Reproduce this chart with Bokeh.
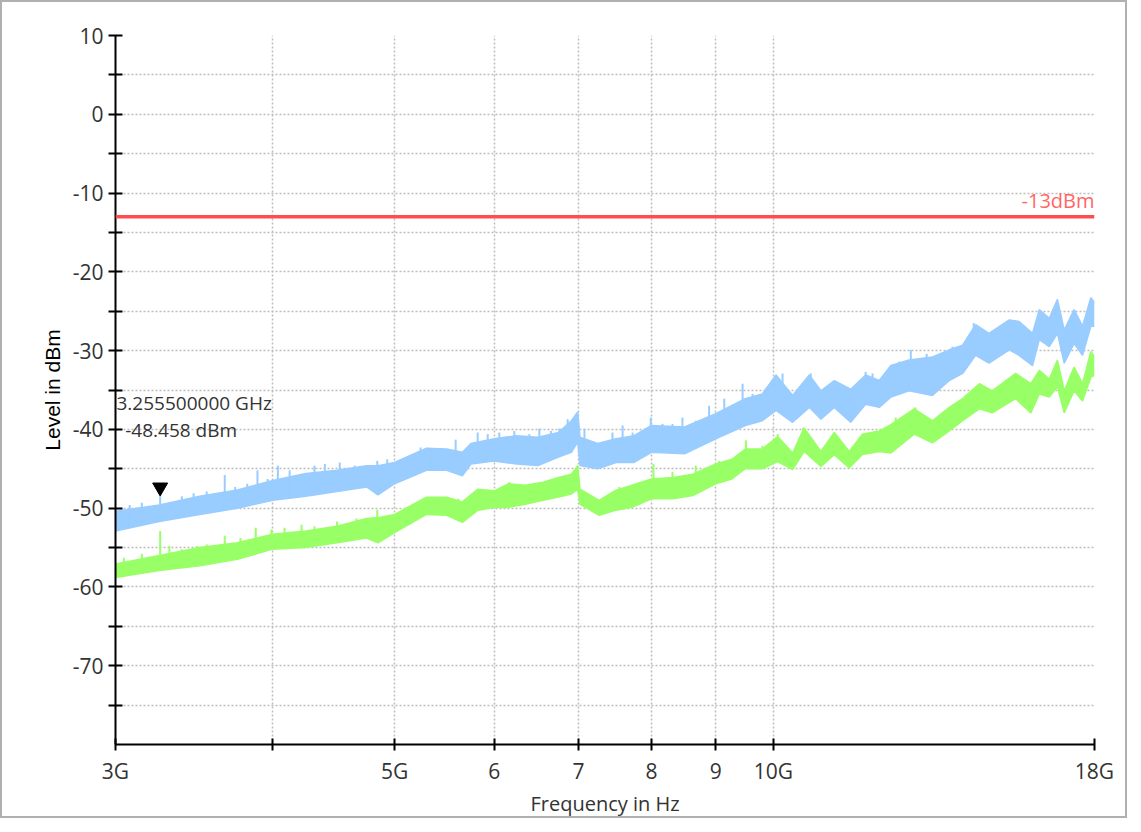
import numpy as np
from bokeh.plotting import figure
from bokeh.models import FixedTicker, Span, Label
from bokeh.embed import file_html
from bokeh.resources import INLINE

# ---------------- data ----------------
# frequencies in GHz, levels in dBm
blue_freq = [3.00, 3.25, 3.50, 3.75, 4.00, 4.25, 4.50, 4.75, 4.85, 5.00, 5.30, 5.50,
             5.66, 5.75, 6.00, 6.25, 6.50, 6.75, 6.91, 6.99, 7.02, 7.25, 7.50, 7.75,
             8.00, 8.50, 9.00, 9.50, 9.80, 10.05, 10.36, 10.68, 10.91, 11.18, 11.52,
             11.84, 12.14, 12.40, 12.82, 13.38, 13.80, 14.14, 14.48, 14.84, 15.40,
             15.68, 16.07, 16.27, 16.57, 16.82, 17.03, 17.34, 17.61, 17.88, 18.00]
blue_hi = [-50.4, -49.6, -48.5, -47.7, -46.5, -45.6, -45.2, -44.6, -44.6, -44.2, -42.4, -42.5,
           -42.9, -41.8, -41.2, -40.8, -41.0, -40.4, -38.9, -37.8, -41.0, -41.8, -41.2, -40.8,
           -39.5, -39.7, -38.0, -36.1, -35.5, -33.1, -35.7, -33.1, -35.1, -33.8, -34.9,
           -33.1, -33.8, -31.9, -31.2, -30.8, -29.9, -29.3, -26.7, -27.8, -26.1,
           -26.3, -27.8, -24.8, -25.9, -23.5, -27.4, -24.8, -26.9, -23.3, -23.9]
blue_lo = [-52.9, -51.7, -50.8, -50.0, -49.0, -48.5, -47.9, -47.3, -48.3, -46.9, -45.2, -45.2,
           -45.9, -44.4, -44.0, -44.4, -44.6, -43.5, -42.9, -41.6, -44.6, -45.0, -44.2, -44.2,
           -42.9, -43.1, -41.2, -39.5, -38.9, -37.6, -39.1, -37.2, -38.7, -37.2, -39.1,
           -36.8, -37.2, -35.9, -35.1, -35.7, -33.8, -32.9, -30.6, -31.6, -29.9,
           -30.6, -31.9, -28.6, -29.5, -27.8, -31.6, -29.1, -30.6, -26.9, -26.9]

green_freq = [3.00, 3.25, 3.50, 3.75, 4.00, 4.25, 4.50, 4.75, 4.85, 5.00, 5.30, 5.50,
              5.66, 5.82, 6.00, 6.16, 6.35, 6.56, 6.75, 6.91, 6.99, 7.02, 7.27, 7.48,
              7.72, 8.00, 8.32, 8.63, 9.00, 9.27, 9.50, 9.80, 10.08, 10.36, 10.58,
              10.91, 11.18, 11.49, 11.77, 12.14, 12.40, 12.94, 13.38, 13.80, 14.14,
              14.58, 14.93, 15.58, 16.02, 16.27, 16.57, 16.82, 17.03, 17.34, 17.61,
              17.88, 18.00]
green_hi = [-57.1, -56.0, -55.0, -54.4, -53.3, -52.9, -52.3, -51.3, -51.2, -50.8, -48.6, -48.6,
            -49.2, -47.6, -47.8, -46.9, -47.1, -46.7, -46.1, -45.7, -44.6, -47.6, -49.0, -47.8,
            -47.1, -46.3, -46.1, -45.7, -44.4, -43.8, -42.5, -42.5, -40.9, -43.0, -39.8,
            -42.8, -40.4, -42.8, -40.6, -40.2, -39.4, -37.4, -38.9, -37.2, -36.1,
            -34.2, -35.1, -32.9, -34.2, -32.5, -33.6, -31.2, -35.1, -32.1, -34.2,
            -30.1, -30.8]
green_lo = [-58.8, -57.9, -57.3, -56.5, -55.2, -55.0, -54.4, -53.8, -54.4, -53.1, -50.8, -50.9,
            -51.8, -50.3, -49.9, -49.9, -49.5, -49.0, -48.6, -48.2, -47.6, -49.5, -50.9, -50.3,
            -49.9, -48.8, -48.8, -48.4, -46.9, -46.3, -45.0, -45.0, -44.1, -45.1, -42.8,
            -44.7, -43.2, -44.9, -43.2, -42.8, -43.0, -40.6, -41.7, -40.2, -38.9,
            -37.4, -37.9, -36.1, -37.9, -35.5, -35.9, -34.6, -37.9, -35.1, -36.4,
            -33.4, -33.1]

# narrow peaks rising above the traces
blue_spike_freq = [3.079, 3.148, 3.2555, 3.387, 3.461, 3.545, 3.664, 3.735, 3.818, 3.890,
                   3.963, 4.038, 4.126, 4.190, 4.318, 4.401, 4.522, 4.648, 4.844, 4.933,
                   5.054, 5.179, 5.243, 5.340, 5.591, 5.821, 5.929, 6.056, 6.225, 6.398,
                   6.516, 6.656, 6.759, 6.863, 7.077, 7.209, 7.450, 7.589, 7.729, 7.991,
                   8.164, 8.314, 8.467, 8.676, 8.891, 9.141, 9.453, 9.627, 9.894, 10.00,
                   10.17, 10.71, 11.27, 11.84, 11.99, 12.43, 12.59, 12.86, 13.24, 13.88,
                   14.43, 14.70, 14.93]
blue_spike_top = [-49.6, -49.3, -48.46, -48.5, -48.1, -47.9, -45.8, -47.3, -46.9, -45.2,
                  -46.3, -44.6, -45.2, -46.0, -44.6, -44.4, -44.2, -44.6, -44.0, -43.8,
                  -43.8, -43.1, -42.3, -42.5, -41.3, -40.4, -40.6, -40.4, -40.2, -40.6,
                  -39.9, -40.2, -39.9, -38.7, -39.9, -41.6, -40.4, -39.5, -40.4, -38.5,
                  -39.3, -39.3, -38.5, -38.9, -37.0, -36.1, -34.2, -35.5, -34.7, -34.2,
                  -32.9, -32.9, -34.2, -32.7, -32.9, -31.9, -31.4, -29.9, -30.4, -29.5,
                  -26.5, -27.6, -27.8]
green_spike_freq = [3.046, 3.148, 3.2555, 3.311, 3.387, 3.483, 3.545, 3.664, 3.771, 3.878,
                    3.991, 4.088, 4.217, 4.318, 4.500, 4.663, 4.844, 5.024, 5.147, 5.308,
                    5.618, 6.168, 6.436, 6.616, 6.887, 7.179, 7.543, 7.826, 8.03, 8.314,
                    8.573, 8.676, 9.058, 9.51, 9.80, 10.08, 10.56, 12.51, 12.97, 13.43]
green_spike_top = [-56.3, -55.8, -52.9, -54.8, -55.2, -54.8, -54.6, -53.5, -53.8, -52.5,
                   -52.7, -52.5, -52.1, -52.3, -51.7, -51.3, -50.2, -50.8, -50.4, -49.0,
                   -48.8, -46.7, -47.3, -46.7, -46.1, -48.6, -47.3, -46.7, -44.4, -45.4,
                   -45.7, -44.6, -44.0, -41.4, -42.1, -40.6, -39.8, -38.5, -37.2, -38.7]

limit_level = -13
limit_text = "-13dBm"
marker_freq = 3.2555
marker_level = -48.458
marker_lines = ["3.255500000 GHz", "-48.458 dBm"]

y_major = [10, 0, -10, -20, -30, -40, -50, -60, -70]
y_minor = [5, -5, -15, -25, -35, -45, -55, -65, -75]
x_ticks = [3, 4, 5, 6, 7, 8, 9, 10, 18]
x_labels = ["3G", "", "5G", "6", "7", "8", "9", "10G", "18G"]

# ---------------- styling ----------------
BLUE = "#99CCFF"
GREEN = "#99FF66"
RED = "#FF4D4D"
GRID = "#bdbdbd"
TXT = "#333333"
FONT = "Open Sans"

p = figure(width=1127, height=818, x_axis_type="log",
           x_range=(3, 18), y_range=(-80, 10),
           output_backend="svg", toolbar_location=None,
           min_border_left=113, min_border_right=35,
           min_border_top=33, min_border_bottom=76,
           background_fill_color="white", border_fill_color="white")
p.styles = {"border": "2px solid #b0b0b0"}
p.outline_line_color = None

# axes
for ax in (p.xaxis[0], p.yaxis[0]):
    ax.axis_line_color = "black"
    ax.axis_line_width = 2
    ax.major_tick_line_color = "black"
    ax.major_tick_line_width = 2
    ax.minor_tick_line_color = "black"
    ax.minor_tick_line_width = 2
    ax.major_label_text_font = FONT
    ax.major_label_text_font_size = "21px"
    ax.major_label_text_color = TXT

yt = FixedTicker(ticks=y_major, minor_ticks=y_minor)
p.yaxis.ticker = yt
p.ygrid.ticker = yt
p.yaxis.major_label_overrides = {t: str(t) for t in y_major}
p.yaxis.major_tick_in = 7
p.yaxis.major_tick_out = 7
p.yaxis.minor_tick_in = 7
p.yaxis.minor_tick_out = 7
p.yaxis.major_label_standoff = 5
p.yaxis.axis_label = "Level in dBm"
p.yaxis.axis_label_text_font = "Liberation Sans"
p.yaxis.axis_label_text_font_style = "normal"
p.yaxis.axis_label_text_font_size = "21px"
p.yaxis.axis_label_text_color = "black"
p.yaxis.axis_label_standoff = 6

xt = FixedTicker(ticks=x_ticks, minor_ticks=[])
p.xaxis.ticker = xt
p.xgrid.ticker = xt
p.xaxis.major_label_overrides = {t: l for t, l in zip(x_ticks, x_labels)}
p.xaxis.major_tick_in = 6
p.xaxis.major_tick_out = 6
p.xaxis.minor_tick_in = 0
p.xaxis.minor_tick_out = 0
p.xaxis.major_label_standoff = 6
p.xaxis.axis_label = "Frequency in Hz"
p.xaxis.axis_label_text_font = FONT
p.xaxis.axis_label_text_font_style = "normal"
p.xaxis.axis_label_text_font_size = "20px"
p.xaxis.axis_label_text_color = TXT
p.xaxis.axis_label_standoff = 2

for g in (p.xgrid[0], p.ygrid[0]):
    g.grid_line_color = GRID
    g.grid_line_dash = "2 2"
    g.grid_line_width = 1.5
p.ygrid.minor_grid_line_color = GRID
p.ygrid.minor_grid_line_dash = "2 2"
p.ygrid.minor_grid_line_width = 1.5

# traces
p.varea(x=blue_freq, y1=blue_lo, y2=blue_hi, fill_color=BLUE)
p.line(blue_freq, blue_hi, line_color=BLUE, line_width=1.5)
p.line(blue_freq, blue_lo, line_color=BLUE, line_width=1.5)
bs_base = np.interp(blue_spike_freq, blue_freq, blue_lo)
p.segment(x0=blue_spike_freq, y0=bs_base, x1=blue_spike_freq, y1=blue_spike_top,
          line_color=BLUE, line_width=2)

p.varea(x=green_freq, y1=green_lo, y2=green_hi, fill_color=GREEN)
p.line(green_freq, green_hi, line_color=GREEN, line_width=1.5)
p.line(green_freq, green_lo, line_color=GREEN, line_width=1.5)
gs_base = np.interp(green_spike_freq, green_freq, green_lo)
p.segment(x0=green_spike_freq, y0=gs_base, x1=green_spike_freq, y1=green_spike_top,
          line_color=GREEN, line_width=2)

# limit line
p.add_layout(Span(location=limit_level, dimension="width", line_color=RED, line_width=3.5))
p.add_layout(Label(x=18, y=limit_level, text=limit_text, text_align="right",
                   text_baseline="bottom", y_offset=3, text_font=FONT,
                   text_font_size="20px", text_color="#FF6666"))

# marker (tip of the triangle at the marker level)
p.scatter(x=[marker_freq], y=[marker_level + 1.1], marker="inverted_triangle",
          size=15, fill_color="black", line_color="black")
p.add_layout(Label(x=3, y=marker_level, text=marker_lines[0], x_offset=1, y_offset=93,
                   text_align="left", text_baseline="middle", text_font=FONT,
                   text_font_size="19px", text_color=TXT))
p.add_layout(Label(x=marker_freq, y=marker_level, text=marker_lines[1], x_offset=21,
                   y_offset=66, text_align="center", text_baseline="middle",
                   text_font=FONT, text_font_size="19px", text_color=TXT))

open("out.html", "w").write(file_html(p, INLINE))
